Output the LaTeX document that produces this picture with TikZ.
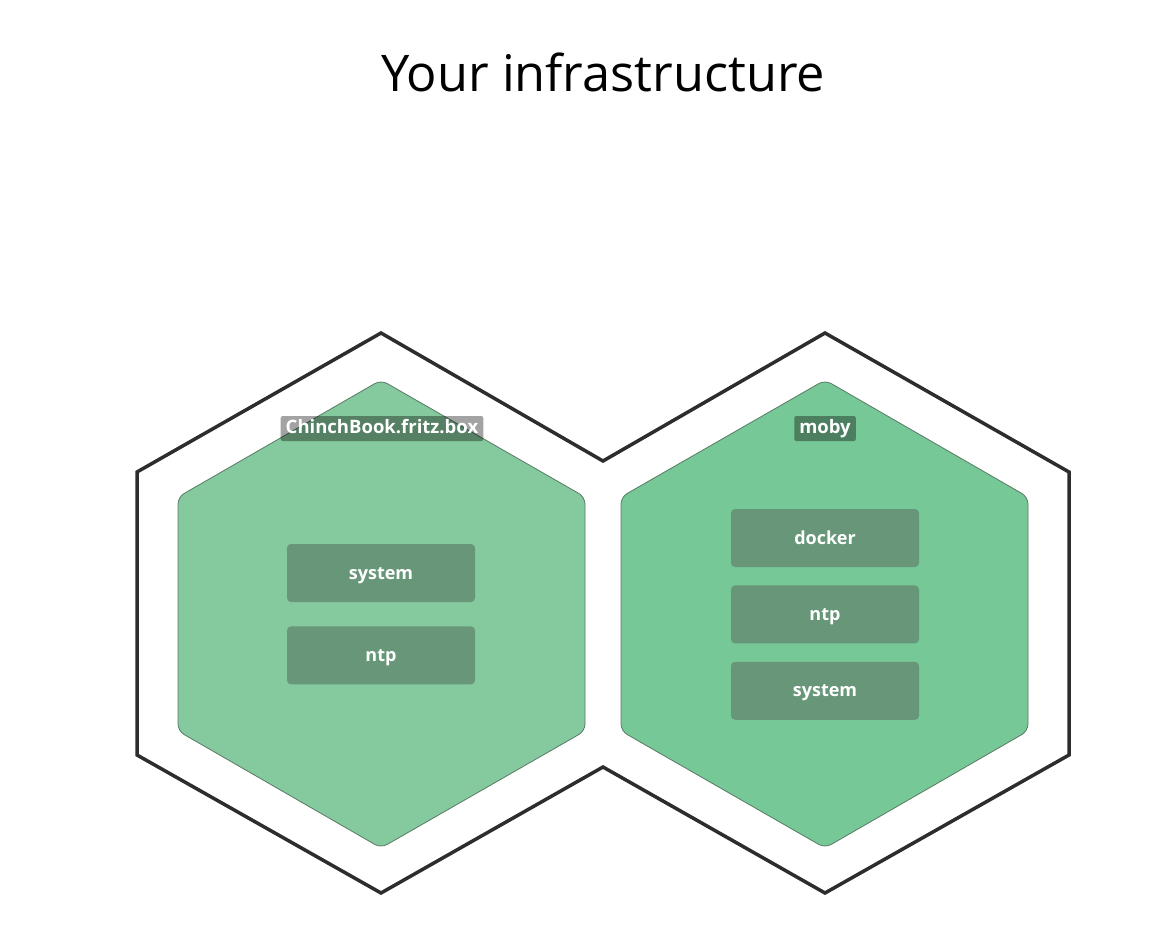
\documentclass[tikz,border=0pt]{standalone}
\usepackage{fontspec}
\setmainfont{Open Sans}
\usepackage{xcolor}
\usetikzlibrary{positioning}

\definecolor{hostleft}{RGB}{133,201,158}
\definecolor{hostright}{RGB}{118,200,151}
\definecolor{hostline}{RGB}{88,122,100}
\definecolor{svcfill}{RGB}{103,151,120}
\definecolor{outline}{RGB}{45,45,45}

\tikzset{
  svcbox/.style={fill=svcfill, rounded corners=4pt, minimum width=188pt,
    minimum height=58pt, inner sep=0pt, text height=13pt, text depth=1pt,
    text=white, font=\fontsize{18}{20}\selectfont\bfseries},
  hostlabel/.style={fill=black, fill opacity=0.36, text opacity=1, text=white,
    rounded corners=2pt, inner xsep=5pt, inner ysep=4pt, text height=13pt, text depth=4pt,
    font=\fontsize{18.5}{20}\selectfont\bfseries},
}

\begin{document}
\begin{tikzpicture}[x=1pt, y=-1pt]
    \useasboundingbox (0,0) rectangle (1164,942);
    \node[font=\fontsize{50.5}{58}\selectfont] (title) at (603,72) {Your infrastructure};

    % outline of both hosts
    \draw[outline, line width=3.5pt, line join=miter] (137,472) -- (381,333) -- (603,461) -- (825,333)
      -- (1069,472) -- (1069,755) -- (825,893) -- (603,767) -- (381,893) -- (137,755) -- cycle;

    % left host
    \filldraw[fill=hostleft, draw=hostline, line width=0.8pt, rounded corners=7pt]
      (381,380) -- (585,497) -- (585,731) -- (381,848) -- (178,731) -- (178,497) -- cycle;
    \node[hostlabel] (chinch) at (382,428.5) {ChinchBook.fritz.box};
    \node[svcbox] (chinchsys) at (381,573) {system};
    \node[svcbox, below=24pt of chinchsys] (chinchntp) {ntp};

    % right host
    \filldraw[fill=hostright, draw=hostline, line width=0.8pt, rounded corners=7pt]
      (825,380) -- (1028,497) -- (1028,731) -- (825,848) -- (621,731) -- (621,497) -- cycle;
    \node[hostlabel] (moby) at (825,428.5) {moby};
    \node[svcbox] (mobydocker) at (825,538) {docker};
    \node[svcbox, below=18pt of mobydocker] (mobyntp) {ntp};
    \node[svcbox, below=18pt of mobyntp] (mobysys) {system};
\end{tikzpicture}
\end{document}
